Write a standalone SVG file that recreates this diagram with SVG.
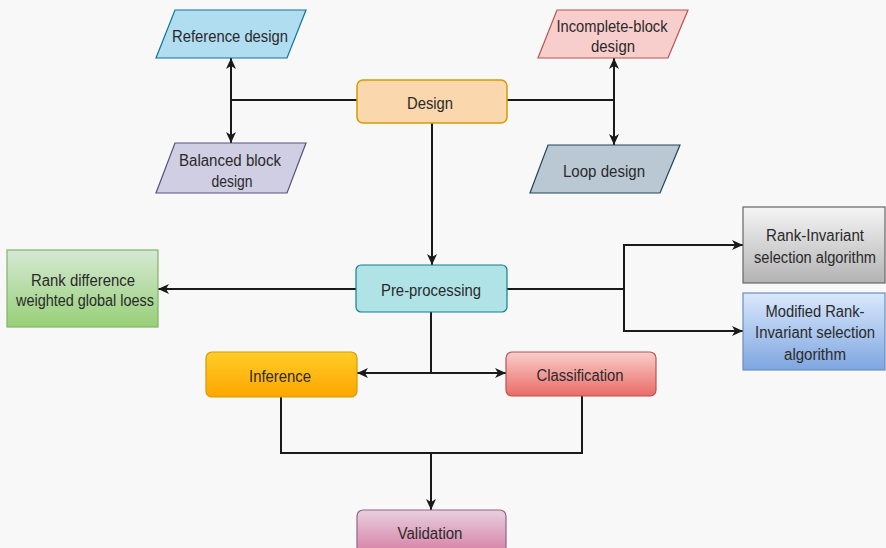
<svg xmlns="http://www.w3.org/2000/svg" width="886" height="548" viewBox="0 0 886 548">
<defs>
<style>
text{font-family:"Liberation Sans",Arial,sans-serif;font-size:16px;fill:#2a2a2a;text-anchor:middle}
.c{fill:none;stroke:#1a1a1a;stroke-width:2}
</style>
<marker id="ah" markerUnits="userSpaceOnUse" markerWidth="12" markerHeight="10" refX="11" refY="5" orient="auto">
<path d="M0,0 L11,5 L0,10 L3,5 z" fill="#1a1a1a"/>
</marker>
<linearGradient id="gGreen" x1="0" y1="0" x2="0" y2="1"><stop offset="0" stop-color="#d5e8d4"/><stop offset="1" stop-color="#97d077"/></linearGradient>
<linearGradient id="gGray" x1="0" y1="0" x2="0" y2="1"><stop offset="0" stop-color="#f5f5f5"/><stop offset="1" stop-color="#b3b3b3"/></linearGradient>
<linearGradient id="gBlue" x1="0" y1="0" x2="0" y2="1"><stop offset="0" stop-color="#dae8fc"/><stop offset="1" stop-color="#7ea6e0"/></linearGradient>
<linearGradient id="gOrange" x1="0" y1="0" x2="0" y2="1"><stop offset="0" stop-color="#ffcd28"/><stop offset="1" stop-color="#ffa500"/></linearGradient>
<linearGradient id="gRed" x1="0" y1="0" x2="0" y2="1"><stop offset="0" stop-color="#f8cecc"/><stop offset="1" stop-color="#ea6b66"/></linearGradient>
<linearGradient id="gPink" x1="0" y1="0" x2="0" y2="1"><stop offset="0" stop-color="#e6d0de"/><stop offset="1" stop-color="#d5739d"/></linearGradient>
</defs>
<rect x="0" y="0" width="886" height="548" fill="#f8f8f8"/>
<g id="connectors">
<path class="c" d="M357,100 H231"/>
<path class="c" d="M231,100 V58" marker-end="url(#ah)"/>
<path class="c" d="M231,100 V143" marker-end="url(#ah)"/>
<path class="c" d="M507,100 H614"/>
<path class="c" d="M614,100 V58" marker-end="url(#ah)"/>
<path class="c" d="M614,100 V145" marker-end="url(#ah)"/>
<path class="c" d="M432,123 V265" marker-end="url(#ah)"/>
<path class="c" d="M356,289 H158" marker-end="url(#ah)"/>
<path class="c" d="M507,289 H624 V245 H743" marker-end="url(#ah)"/>
<path class="c" d="M624,289 V331 H743" marker-end="url(#ah)"/>
<path class="c" d="M431,312 V373"/>
<path class="c" d="M431,373 H357" marker-end="url(#ah)"/>
<path class="c" d="M431,373 H506" marker-end="url(#ah)"/>
<path class="c" d="M281,397 V453 H582 V396"/>
<path class="c" d="M431,453 V510" marker-end="url(#ah)"/>
</g>
<g id="reference-design">
<polygon points="175,10 306,10 287,58 156,58" fill="#b1ddf0" stroke="#10739e" stroke-width="1.2"/>
<text x="230" y="42" textLength="116" lengthAdjust="spacingAndGlyphs">Reference design</text>
</g>
<g id="design">
<rect x="357" y="80" width="150" height="43" rx="6" fill="#fad7ac" stroke="#d79b00" stroke-width="1.5"/>
<text x="430" y="109" textLength="46" lengthAdjust="spacingAndGlyphs">Design</text>
</g>
<g id="balanced-block-design">
<polygon points="175,143 306,143 287,193 156,193" fill="#d0cee2" stroke="#56517e" stroke-width="1.2"/>
<text x="230" y="166" textLength="102" lengthAdjust="spacingAndGlyphs">Balanced block</text>
<text x="232" y="187" textLength="41" lengthAdjust="spacingAndGlyphs">design</text>
</g>
<g id="incomplete-block-design">
<polygon points="557,10 688,10 668,58 538,58" fill="#f8cecc" stroke="#b85450" stroke-width="1.2"/>
<text x="612" y="32" textLength="111" lengthAdjust="spacingAndGlyphs">Incomplete-block</text>
<text x="613" y="52" textLength="44" lengthAdjust="spacingAndGlyphs">design</text>
</g>
<g id="loop-design">
<polygon points="548,145 680,145 660,193 530,193" fill="#bac8d3" stroke="#23445d" stroke-width="1.2"/>
<text x="604" y="177" textLength="82" lengthAdjust="spacingAndGlyphs">Loop design</text>
</g>
<g id="pre-processing">
<rect x="356" y="265" width="151" height="47" rx="5" fill="#b0e3e6" stroke="#0e8088" stroke-width="1.2"/>
<text x="431" y="296" textLength="100" lengthAdjust="spacingAndGlyphs">Pre-processing</text>
</g>
<g id="rank-difference">
<rect x="7" y="250" width="151" height="77" fill="url(#gGreen)" stroke="#82b366" stroke-width="1.2"/>
<text x="83" y="286" textLength="104" lengthAdjust="spacingAndGlyphs">Rank difference</text>
<text x="85" y="306" textLength="138" lengthAdjust="spacingAndGlyphs">weighted global loess</text>
</g>
<g id="rank-invariant">
<rect x="743" y="207" width="142" height="76" fill="url(#gGray)" stroke="#666" stroke-width="1.2"/>
<text x="815" y="241" textLength="98" lengthAdjust="spacingAndGlyphs">Rank-Invariant</text>
<text x="815" y="263" textLength="122" lengthAdjust="spacingAndGlyphs">selection algorithm</text>
</g>
<g id="modified-rank-invariant">
<rect x="743" y="293" width="142" height="77" fill="url(#gBlue)" stroke="#6c8ebf" stroke-width="1.2"/>
<text x="815" y="317" textLength="99" lengthAdjust="spacingAndGlyphs">Modified Rank-</text>
<text x="815" y="338" textLength="120" lengthAdjust="spacingAndGlyphs">Invariant selection</text>
<text x="815" y="360" textLength="62" lengthAdjust="spacingAndGlyphs">algorithm</text>
</g>
<g id="inference">
<rect x="206" y="352" width="151" height="45" rx="6" fill="url(#gOrange)" stroke="#d79b00" stroke-width="1.2"/>
<text x="280" y="382" textLength="62" lengthAdjust="spacingAndGlyphs">Inference</text>
</g>
<g id="classification">
<rect x="506" y="352" width="150" height="44" rx="6" fill="url(#gRed)" stroke="#b85450" stroke-width="1.2"/>
<text x="580" y="381" textLength="87" lengthAdjust="spacingAndGlyphs">Classification</text>
</g>
<g id="validation">
<rect x="357" y="510" width="149" height="50" rx="6" fill="url(#gPink)" stroke="#996185" stroke-width="1.2"/>
<text x="430" y="539" textLength="65" lengthAdjust="spacingAndGlyphs">Validation</text>
</g>
</svg>
